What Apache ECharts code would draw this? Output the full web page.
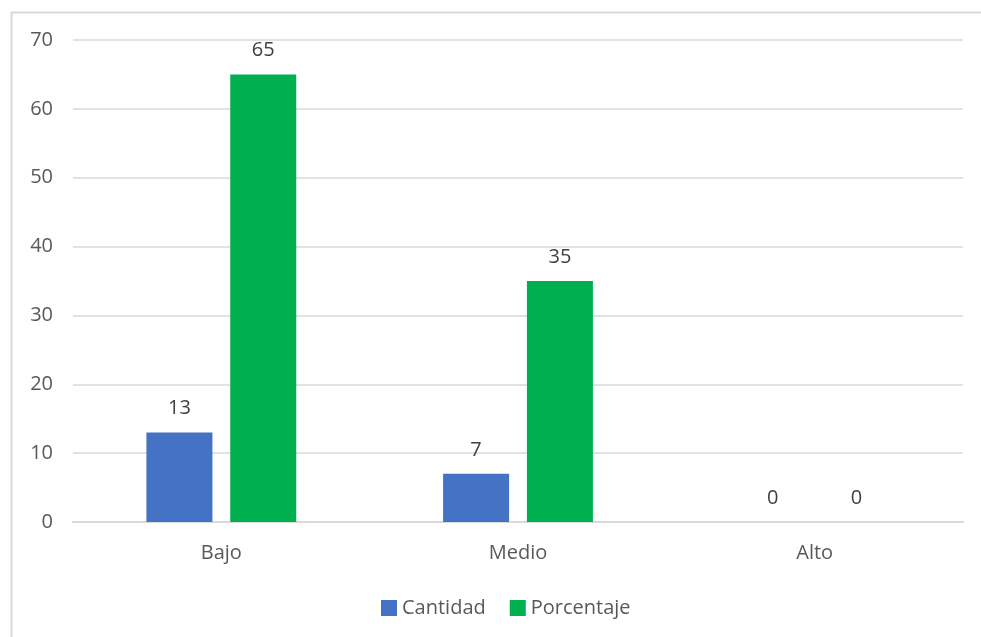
<!DOCTYPE html>
<html>
<head>
<meta charset="utf-8">
<script src="https://cdn.jsdelivr.net/npm/echarts@6/dist/echarts.min.js"></script>
<style>
  html, body { margin: 0; padding: 0; background: #fff; }
  #chart { width: 981px; height: 637px; }
</style>
</head>
<body>
<div id="chart"></div>
<script>
// datos del grafico
var categorias = ['Bajo', 'Medio', 'Alto'];
var cantidad = [13, 7, 0];
var porcentaje = [65, 35, 0];
var nombres = ['Cantidad', 'Porcentaje'];

var fuente = '"Open Sans", "Liberation Sans", sans-serif';
var gris = '#595959';

var myChart = echarts.init(document.getElementById('chart'));

function serie(nombre, datos, color) {
    return {
        name: nombre,
        type: 'bar',
        data: datos,
        barWidth: 66,
        barGap: '27%',
        itemStyle: { color: color },
        label: {
            show: true,
            position: 'top',
            distance: 14,
            color: '#404040',
            fontFamily: fuente,
            fontSize: 20
        }
    };
}

var option = {
    backgroundColor: '#fff',
    animation: false,
    graphic: [{
        type: 'rect',
        left: 9,
        top: 10,
        shape: { width: 1000, height: 700 },
        style: { fill: 'none', stroke: '#d9d9d9', lineWidth: 2 },
        silent: true
    }],
    grid: {
        left: 73,
        right: 18,
        top: 40,
        bottom: 115
    },
    legend: {
        data: nombres,
        left: 376,
        top: 593,
        icon: 'rect',
        itemWidth: 16,
        itemHeight: 16,
        itemGap: 24,
        textStyle: { color: gris, fontFamily: fuente, fontSize: 20 }
    },
    xAxis: {
        type: 'category',
        data: categorias,
        axisLine: { lineStyle: { color: '#d9d9d9', width: 2 } },
        axisTick: { show: false },
        axisLabel: { color: gris, fontFamily: fuente, fontSize: 20, margin: 21 }
    },
    yAxis: {
        type: 'value',
        min: 0,
        max: 70,
        interval: 10,
        axisLine: { show: false },
        axisTick: { show: false },
        splitLine: { lineStyle: { color: '#d9d9d9', width: 1.5 } },
        axisLabel: { color: gris, fontFamily: fuente, fontSize: 20, margin: 20 }
    },
    series: [
        serie(nombres[0], cantidad, '#4472c4'),
        serie(nombres[1], porcentaje, '#00b050')
    ]
};
myChart.setOption(option);
</script>
</body>
</html>
